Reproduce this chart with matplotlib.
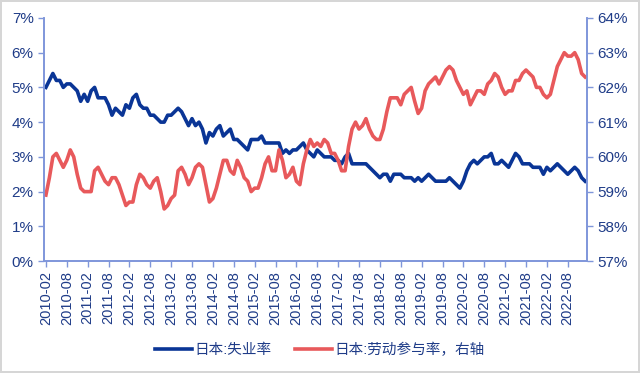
import matplotlib
matplotlib.use("Agg")
import matplotlib.pyplot as plt
import numpy as np
import pandas as pd

plt.rcParams['font.family'] = ['Liberation Sans', 'Noto Sans CJK SC', 'DejaVu Sans']

# monthly, 2010-02 .. 2023-01
months = pd.period_range("2010-02", periods=156, freq="M").strftime("%Y-%m").tolist()

unemp = [5.0, 5.2, 5.4, 5.2, 5.2, 5.0, 5.1, 5.1, 5.0, 4.9, 4.6, 4.8,
         4.6, 4.9, 5.0, 4.7, 4.7, 4.7, 4.5, 4.2, 4.4, 4.3, 4.2, 4.5,
         4.4, 4.7, 4.8, 4.5, 4.4, 4.4, 4.2, 4.2, 4.1, 4.0, 4.0, 4.2,
         4.2, 4.3, 4.4, 4.3, 4.1, 3.9, 4.1, 3.9, 4.0, 3.8, 3.4, 3.7,
         3.6, 3.8, 3.9, 3.6, 3.7, 3.8, 3.5, 3.5, 3.4, 3.3, 3.2, 3.5,
         3.5, 3.5, 3.6, 3.4, 3.4, 3.4, 3.4, 3.4, 3.1, 3.2, 3.1, 3.2,
         3.2, 3.3, 3.4, 3.2, 3.1, 3.0, 3.2, 3.1, 3.0, 3.0, 3.0, 2.9,
         2.9, 2.8, 3.0, 3.1, 2.8, 2.8, 2.8, 2.8, 2.8, 2.7, 2.6, 2.5,
         2.4, 2.5, 2.5, 2.3, 2.5, 2.5, 2.5, 2.4, 2.4, 2.4, 2.3, 2.4,
         2.3, 2.4, 2.5, 2.4, 2.3, 2.3, 2.3, 2.3, 2.4, 2.3, 2.2, 2.1,
         2.3, 2.6, 2.8, 2.9, 2.8, 2.9, 3.0, 3.0, 3.1, 2.8, 2.8, 2.9,
         2.8, 2.7, 2.9, 3.1, 3.0, 2.8, 2.8, 2.8, 2.7, 2.7, 2.7, 2.5,
         2.7, 2.6, 2.7, 2.8, 2.7, 2.6, 2.5, 2.6, 2.7, 2.6, 2.4, 2.3]

lfpr = [58.9, 59.4, 60.0, 60.1, 59.9, 59.7, 59.9, 60.2, 60.0, 59.5, 59.1, 59.0,
        59.0, 59.0, 59.6, 59.7, 59.5, 59.3, 59.2, 59.4, 59.4, 59.2, 58.9, 58.6,
        58.7, 58.7, 59.2, 59.5, 59.4, 59.2, 59.1, 59.3, 59.4, 59.0, 58.5, 58.6,
        58.8, 58.9, 59.6, 59.7, 59.5, 59.2, 59.4, 59.7, 59.8, 59.7, 59.2, 58.7,
        58.8, 59.1, 59.5, 59.9, 59.9, 59.6, 59.5, 59.9, 59.7, 59.4, 59.3, 59.0,
        59.1, 59.1, 59.4, 59.8, 60.0, 59.6, 59.6, 60.2, 59.9, 59.4, 59.5, 59.7,
        59.3, 59.2, 59.8, 60.2, 60.5, 60.3, 60.4, 60.3, 60.5, 60.4, 60.1, 60.1,
        59.9, 59.6, 59.6, 60.3, 60.8, 61.0, 60.8, 60.9, 61.1, 60.8, 60.6, 60.5,
        60.5, 60.8, 61.3, 61.7, 61.7, 61.7, 61.5, 61.8, 61.9, 62.0, 61.6, 61.25,
        61.4, 61.9, 62.1, 62.2, 62.3, 62.1, 62.3, 62.5, 62.6, 62.5, 62.2, 62.0,
        61.8, 61.9, 61.5, 61.7, 61.9, 61.9, 61.8, 62.1, 62.2, 62.4, 62.3, 62.0,
        61.8, 61.9, 61.9, 62.2, 62.2, 62.4, 62.5, 62.4, 62.3, 62.0, 62.0, 61.8,
        61.7, 61.8, 62.2, 62.6, 62.8, 63.0, 62.9, 62.9, 63.0, 62.8, 62.4, 62.3]

blue = '#0a3596'
red = '#e8595b'
axcol = '#7f96da'
txtcol = '#1f3c88'

fig = plt.figure(figsize=(6.4, 3.73), dpi=100)
fig.patch.set_edgecolor('#d6d6d6')
fig.patch.set_linewidth(1.5)
ax = fig.add_axes([0.069, 0.30, 0.848, 0.652])
ax2 = ax.twinx()

x = np.arange(len(months))
l1, = ax.plot(x, unemp, color=blue, lw=2.6, label='日本:失业率')
l2, = ax2.plot(x, lfpr, color=red, lw=2.6, label='日本:劳动参与率，右轴')

ax.set_xlim(-0.5, len(months) - 0.5)
ax.set_ylim(0, 7)
ax2.set_ylim(57, 64)
ax.set_yticks(np.arange(0, 8))
ax.set_yticklabels([f'{v}%' for v in range(0, 8)])
ax2.set_yticks(np.arange(57, 65))
ax2.set_yticklabels([f'{v}%' for v in range(57, 65)])
ax.set_xticks(x[::6])
ax.set_xticklabels(months[::6], rotation=90)

for a in (ax, ax2):
    a.spines['top'].set_visible(False)
    for s in ('left', 'right', 'bottom'):
        a.spines[s].set_color(axcol)
        a.spines[s].set_linewidth(1.2)
    a.tick_params(colors=axcol, labelcolor=txtcol, labelsize=11, length=4, width=1)
ax.tick_params(axis='x', labelsize=10.5, pad=3)

fig.legend([l1, l2], [l1.get_label(), l2.get_label()], loc='center',
           bbox_to_anchor=(0.5, 0.062), ncol=2, frameon=False, fontsize=10.5,
           handlelength=2.5, handletextpad=0.2, columnspacing=1.6,
           labelcolor=txtcol)

fig.savefig('out.png', dpi=100, edgecolor=fig.get_edgecolor())
